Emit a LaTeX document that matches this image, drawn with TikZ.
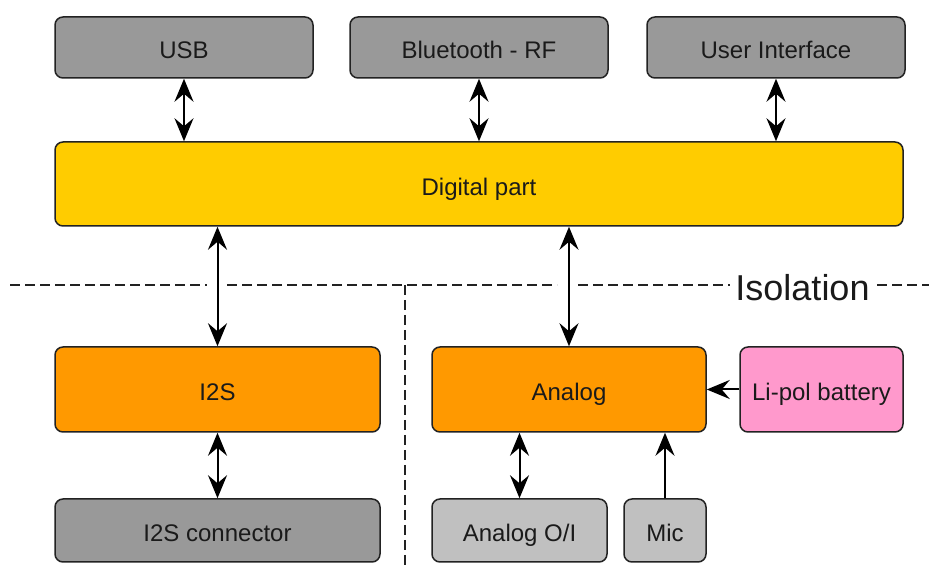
\documentclass[tikz,border=0pt]{standalone}
\usepackage{fontspec}
\setmainfont{Liberation Sans}
\usetikzlibrary{arrows.meta}

\definecolor{darkgrey}{HTML}{999999}
\definecolor{lightgrey}{HTML}{C0C0C0}
\definecolor{digyellow}{HTML}{FFCC00}
\definecolor{partorange}{HTML}{FF9900}
\definecolor{batpink}{HTML}{FF99CC}
\definecolor{boxline}{HTML}{222222}
\definecolor{textcol}{HTML}{1A1A1A}

\begin{document}
\begin{tikzpicture}[x=1pt,y=1pt]

        \useasboundingbox (0,0) rectangle (929,567);

        % isolation barrier
        \begin{scope}[every path/.style={draw=boxline,line width=1.3pt,dash pattern=on 10pt off 5pt}]
          \coordinate (isoL) at (10,282);
          \coordinate (isoR) at (929,282);
          \coordinate (isoB) at (405,0);
          \draw (isoL) -- (207,282);
          \draw (227,282) -- (557,282);
          \draw (578,282) -- (730,282);
          \draw (877,282) -- (isoR);
          \draw (isoB |- isoL) -- (isoB);
        \end{scope}
        \node[anchor=base,inner sep=0pt,text=textcol,font=\fontsize{36}{40}\selectfont] (iso) at (802.5,266) {Isolation};

        \begin{scope}[every node/.style={draw=boxline,line width=1.5pt,rounded corners=8pt,inner sep=0pt,
                                         text height=23pt,text depth=0pt,
                                         text=textcol,font=\fontsize{24}{28}\selectfont}]
          \node[fill=darkgrey,minimum width=258,minimum height=61]   (usb)     at (184,519.5)   {USB};
          \node[fill=darkgrey,minimum width=258,minimum height=61]   (bt)      at (479,519.5)   {Bluetooth - RF};
          \node[fill=darkgrey,minimum width=258,minimum height=61]   (ui)      at (776,519.5)   {User Interface};
          \node[fill=digyellow,minimum width=848,minimum height=84]  (digital) at (479,383)     {Digital part};
          \node[fill=partorange,minimum width=325,minimum height=85] (i2s)     at (217.5,177.5) {I2S};
          \node[fill=partorange,minimum width=274,minimum height=85] (analog)  at (569,177.5)   {Analog};
          \node[fill=batpink,minimum width=163,minimum height=85]    (bat)     at (821.5,177.5) {Li-pol battery};
          \node[fill=darkgrey,minimum width=325,minimum height=63]   (i2scon)  at (217.5,36.5)  {I2S connector};
          \node[fill=lightgrey,minimum width=175,minimum height=63]  (aio)     at (519.5,36.5)  {Analog O/I};
          \node[fill=lightgrey,minimum width=82,minimum height=63]   (mic)     at (665,36.5)    {Mic};
        \end{scope}

        \begin{scope}[line width=2pt,>={Stealth[length=23pt,width=19pt,inset=8pt]}]
          \draw[<->] (usb.south) -- (usb.south |- digital.north);
          \draw[<->] (bt.south) -- (bt.south |- digital.north);
          \draw[<->] (ui.south) -- (ui.south |- digital.north);
          \draw[<->] (i2s.north |- digital.south) -- (i2s.north);
          \draw[<->] (analog.north |- digital.south) -- (analog.north);
          \draw[<->] (i2s.south) -- (i2scon.north);
          \draw[<->] (analog.south -| aio.north) -- (aio.north);
          \draw[->] (mic.north) -- (mic.north |- analog.south);
          \draw[->] (bat.west) -- (analog.east);
        \end{scope}

      \end{tikzpicture}
\end{document}
